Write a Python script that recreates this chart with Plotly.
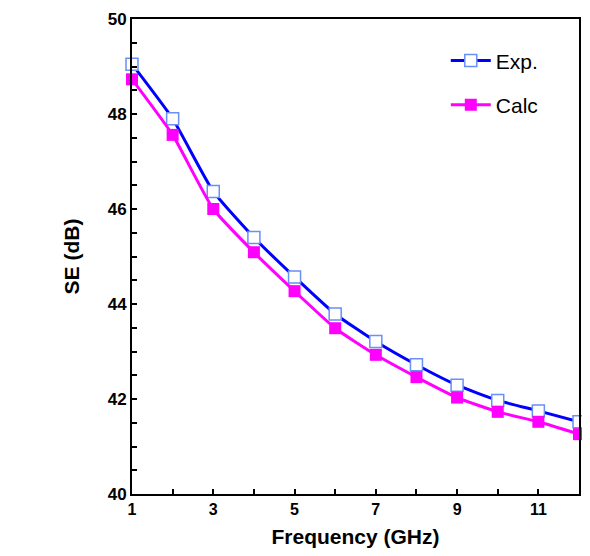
import plotly.graph_objects as go

freq = [1, 2, 3, 4, 5, 6, 7, 8, 9, 10, 11, 12]
se_exp = [49.05, 47.90, 46.37, 45.40, 44.57, 43.79, 43.21, 42.72, 42.29, 41.97, 41.75, 41.52]
se_calc = [48.73, 47.56, 46.00, 45.09, 44.27, 43.49, 42.93, 42.46, 42.03, 41.73, 41.52, 41.26]
x_ticks = [1, 3, 5, 7, 9, 11]
y_ticks = [40, 42, 44, 46, 48, 50]

FONT = "Liberation Sans, Arial, Helvetica, sans-serif"

fig = go.Figure()
fig.add_trace(go.Scatter(
    x=freq, y=se_exp, name="Exp.", mode="lines+markers", legendgroup="a",
    line=dict(color="#0000FF", width=3, shape="spline", smoothing=0.5),
    marker=dict(symbol="square", size=12, color="white",
                line=dict(color="#6A8FF5", width=1.5)),
    cliponaxis=False,
))
fig.add_trace(go.Scatter(
    x=freq, y=se_calc, name="Calc", mode="lines+markers", legendgroup="b",
    line=dict(color="#FF00FF", width=3, shape="spline", smoothing=0.5),
    marker=dict(symbol="square", size=12, color="#FF00FF"),
    cliponaxis=False,
))

# page body has an 8px default margin; size the figure so the page never overflows
fig.update_layout(
    width=574, height=540,
    margin=dict(l=124, r=1, t=11, b=54),
    paper_bgcolor="white", plot_bgcolor="white",
    font=dict(family=FONT, color="black"),
    showlegend=True,
    legend=dict(x=0.702, y=0.955, xanchor="left", yanchor="top",
                font=dict(size=21, family=FONT), bgcolor="rgba(0,0,0,0)",
                tracegroupgap=14, itemwidth=40),
    xaxis=dict(
        range=[1, 12], tickmode="array", tickvals=x_ticks,
        ticktext=[str(v) for v in x_ticks], automargin=False,
        ticks="inside", ticklen=5, tickwidth=2, tickcolor="black",
        minor=dict(dtick=1, tick0=1, ticks="inside", ticklen=5, tickwidth=2, tickcolor="black"),
        showline=True, linecolor="black", linewidth=2, mirror=True,
        showgrid=False, zeroline=False,
        tickfont=dict(size=16, family=FONT, weight="bold"),
        title=dict(text="Frequency (GHz)", font=dict(size=21, family=FONT, weight="bold"), standoff=15),
    ),
    yaxis=dict(
        range=[40, 50], tickmode="array", tickvals=y_ticks,
        ticktext=[str(v) for v in y_ticks],
        ticks="inside", ticklen=5, tickwidth=2, tickcolor="black",
        minor=dict(dtick=0.5, tick0=40, ticks="inside", ticklen=5, tickwidth=2, tickcolor="black"),
        showline=True, linecolor="black", linewidth=2, mirror=True,
        showgrid=False, zeroline=False,
        tickfont=dict(size=17, family=FONT, weight="bold"),
        title=dict(text="SE (dB)", font=dict(size=21, family=FONT, weight="bold"), standoff=22),
    ),
)

fig.write_html("out.html")
